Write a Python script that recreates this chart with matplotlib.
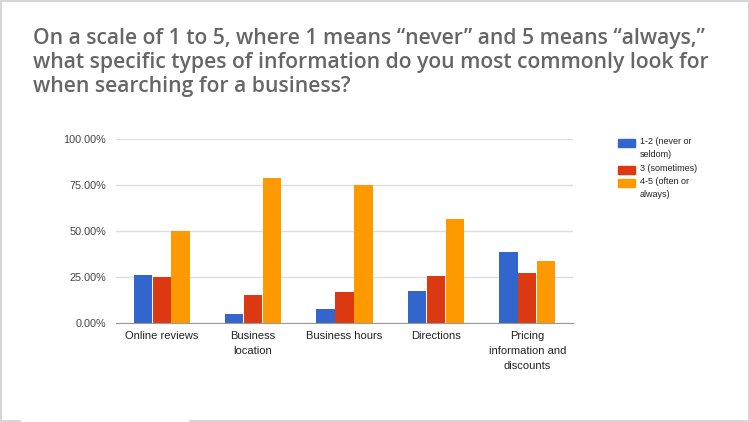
import matplotlib.pyplot as plt
import numpy as np
from matplotlib.lines import Line2D
from matplotlib.patches import Rectangle

categories = ["Online reviews", "Business\nlocation", "Business hours",
              "Directions", "Pricing\ninformation and\ndiscounts"]
series_names = ["1-2 (never or\nseldom)", "3 (sometimes)", "4-5 (often or\nalways)"]
never_seldom = [25.9, 4.9, 7.4, 17.2, 38.6]
sometimes = [24.8, 15.0, 16.8, 25.5, 27.0]
often_always = [50.2, 78.6, 75.2, 56.3, 33.9]
yticks = [0, 25, 50, 75, 100]
ytick_labels = ["0.00%", "25.00%", "50.00%", "75.00%", "100.00%"]
title = ("On a scale of 1 to 5, where 1 means \u201cnever\u201d and 5 means \u201calways,\u201d\n"
         "what specific types of information do you most commonly look for\n"
         "when searching for a business?")

colors = ["#3366cc", "#dc3912", "#ff9900"]

fig = plt.figure(figsize=(7.5, 4.22), dpi=100)
ax = fig.add_axes([116 / 750, 1 - 323 / 422, 457 / 750, 184 / 422])

x = np.arange(len(categories))
w = 0.2
for i, vals in enumerate([never_seldom, sometimes, often_always]):
    ax.bar(x + (i - 1) * 0.207, vals, width=w, color=colors[i],
           label=series_names[i], zorder=3)

ax.set_xlim(-0.5, len(categories) - 0.5)
ax.set_ylim(0, 100)
ax.set_yticks(yticks)
ax.set_yticklabels(ytick_labels, fontsize=7.8, color="#444444", family="Liberation Sans")
ax.set_xticks(x)
ax.set_xticklabels(categories, fontsize=8, color="#222222", family="Liberation Sans",
                   linespacing=1.6, va="top")
ax.tick_params(length=0, pad=7)
ax.tick_params(axis="x", pad=6)
ax.grid(axis="y", color="#dddddd", linewidth=1, zorder=0)
for s in ["top", "right", "left"]:
    ax.spines[s].set_visible(False)
ax.spines["bottom"].set_color("#999999")
ax.spines["bottom"].set_zorder(4)

# legend drawn by hand so the swatch lines up with the first text line
leg_tops = [139, 166, 179]
for name, c, top in zip(series_names, colors, leg_tops):
    fig.add_artist(Rectangle((618 / 750, 1 - (top + 8) / 422), 17 / 750, 8 / 422,
                             color=c, transform=fig.transFigure))
    fig.text(640 / 750, 1 - (top - 2) / 422, name, fontsize=6.5, family="Liberation Sans",
             color="#222222", va="top", ha="left", linespacing=1.55)

fig.text(33 / 750, 1 - 28 / 422, title, fontsize=15.2, fontweight=600,
         family="Open Sans", color="#666666", va="top", ha="left", linespacing=1.2)

# frame round the picture
fr = "#d6d6d6"
fig.add_artist(Line2D([1 / 750, 1 / 750], [0, 1], color=fr, lw=1.5, transform=fig.transFigure))
fig.add_artist(Line2D([749 / 750, 749 / 750], [0, 1], color=fr, lw=1.5, transform=fig.transFigure))
fig.add_artist(Line2D([0, 1], [421 / 422, 421 / 422], color=fr, lw=1.5, transform=fig.transFigure))
fig.add_artist(Line2D([0, 20 / 750], [1 / 422, 1 / 422], color=fr, lw=1.5, transform=fig.transFigure))
fig.add_artist(Line2D([190 / 750, 1], [1 / 422, 1 / 422], color=fr, lw=1.5, transform=fig.transFigure))

fig.savefig("out.png", dpi=100)
